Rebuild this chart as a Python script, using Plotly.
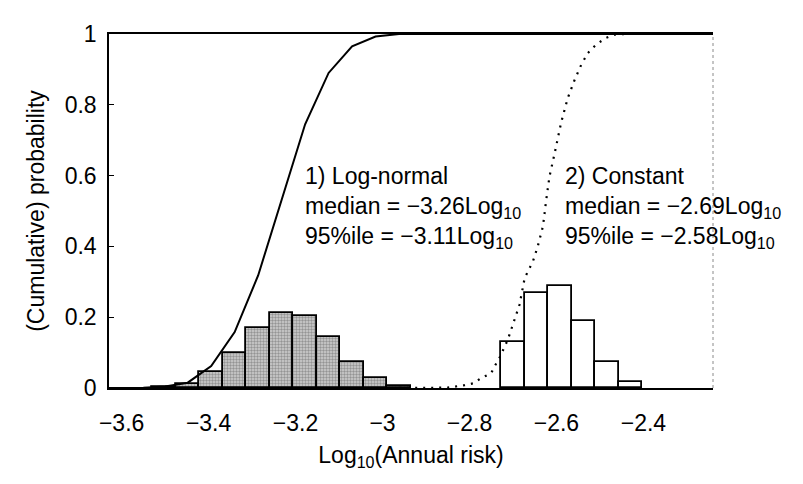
import plotly.graph_objects as go

# Histogram 1: Log-normal (grey, stippled)
lognormal_centers = [-3.502, -3.448, -3.394, -3.340, -3.286, -3.232, -3.178, -3.124, -3.070, -3.016, -2.962]
lognormal_probs = [0.003, 0.010, 0.045, 0.100, 0.170, 0.213, 0.203, 0.144, 0.073, 0.028, 0.005]

# Histogram 2: Constant (white)
constant_centers = [-2.700, -2.646, -2.592, -2.538, -2.484, -2.430]
constant_probs = [0.129, 0.268, 0.289, 0.190, 0.073, 0.016]

bin_width = 0.054

# Cumulative curves
lognormal_cdf_x = [-3.629, -3.55, -3.50, -3.448, -3.394, -3.340, -3.286, -3.232, -3.178, -3.124,
                   -3.070, -3.016, -2.962, -2.90, -2.24]
lognormal_cdf_y = [0.0, 0.001, 0.004, 0.015, 0.062, 0.158, 0.318, 0.530, 0.745, 0.890,
                   0.965, 0.993, 1.0, 1.0, 1.0]

constant_cdf_x = [-2.98, -2.85, -2.811, -2.792, -2.773, -2.750, -2.741, -2.731, -2.712, -2.697,
                  -2.685, -2.673, -2.654, -2.643, -2.631, -2.624, -2.616, -2.604, -2.589,
                  -2.574, -2.558, -2.543, -2.528, -2.509, -2.486, -2.467, -2.44]
constant_cdf_y = [0.0, 0.001, 0.008, 0.013, 0.028, 0.042, 0.064, 0.085, 0.136, 0.188,
                  0.235, 0.311, 0.358, 0.400, 0.457, 0.527, 0.598, 0.664, 0.751,
                  0.819, 0.871, 0.913, 0.946, 0.970, 0.989, 0.998, 1.0]

y_ticks = [0, 0.2, 0.4, 0.6, 0.8, 1]
y_labels = ["0", "0.2", "0.4", "0.6", "0.8", "1"]
x_ticks = [-3.6, -3.4, -3.2, -3.0, -2.8, -2.6, -2.4]
x_labels = ["\u22123.6", "\u22123.4", "\u22123.2", "\u22123", "\u22122.8", "\u22122.6", "\u22122.4"]

FONT = "Liberation Sans, Arial, Helvetica, sans-serif"

fig = go.Figure()

fig.add_trace(go.Bar(
    x=lognormal_centers, y=lognormal_probs, width=bin_width,
    marker=dict(color="#b8b8b8", line=dict(color="black", width=1.8),
                pattern=dict(shape=".", fgcolor="#5a5a5a", bgcolor="#cfcfcf", size=3, solidity=0.5)),
    showlegend=False, hoverinfo="skip"))

fig.add_trace(go.Bar(
    x=constant_centers, y=constant_probs, width=bin_width,
    marker=dict(color="white", line=dict(color="black", width=1.8)),
    showlegend=False, hoverinfo="skip"))

fig.add_trace(go.Scatter(
    x=lognormal_cdf_x, y=lognormal_cdf_y, mode="lines",
    line=dict(color="black", width=2), showlegend=False, hoverinfo="skip"))

fig.add_trace(go.Scatter(
    x=constant_cdf_x, y=constant_cdf_y, mode="lines",
    line=dict(color="black", width=2.2, dash="2px,6px"), showlegend=False, hoverinfo="skip"))

fig.add_annotation(
    x=-3.183, y=0.64, xref="x", yref="y", xanchor="left", yanchor="top", showarrow=False,
    align="left",
    text="1) Log-normal<br>median = \u22123.26Log<sub>10</sub><br>95%ile = \u22123.11Log<sub>10</sub>",
    font=dict(family=FONT, size=23, color="black"))

fig.add_annotation(
    x=-2.585, y=0.64, xref="x", yref="y", xanchor="left", yanchor="top", showarrow=False,
    align="left",
    text="2) Constant<br>median = \u22122.69Log<sub>10</sub><br>95%ile = \u22122.58Log<sub>10</sub>",
    font=dict(family=FONT, size=23, color="black"))

# light right-hand frame edge (as in the scanned original)
fig.add_shape(type="line", xref="paper", yref="paper", x0=1, x1=1, y0=0, y1=1,
              line=dict(color="#8a8a8a", width=1, dash="dot"))

fig.update_layout(
    width=803, height=484,
    margin=dict(l=101, r=98, t=26, b=104),
    paper_bgcolor="white", plot_bgcolor="white",
    barmode="overlay", bargap=0,
    font=dict(family=FONT, size=23, color="black"),
    xaxis=dict(range=[-3.629, -2.24], tickvals=x_ticks, ticktext=x_labels,
               showgrid=False, zeroline=False, showline=True, linecolor="black", linewidth=1.5,
               mirror=True, ticks="", ticklabelstandoff=14,
               title=dict(text="Log<sub>10</sub>(Annual risk)", standoff=12,
                          font=dict(family=FONT, size=23))),
    yaxis=dict(range=[0, 1], tickvals=y_ticks, ticktext=y_labels,
               showgrid=False, zeroline=False, showline=True, linecolor="black", linewidth=1.5,
               mirror=False, ticks="inside", ticklen=5, tickcolor="black", ticklabelstandoff=6,
               title=dict(text="(Cumulative) probability", standoff=14,
                          font=dict(family=FONT, size=23))),
)

fig.write_html("out.html")
